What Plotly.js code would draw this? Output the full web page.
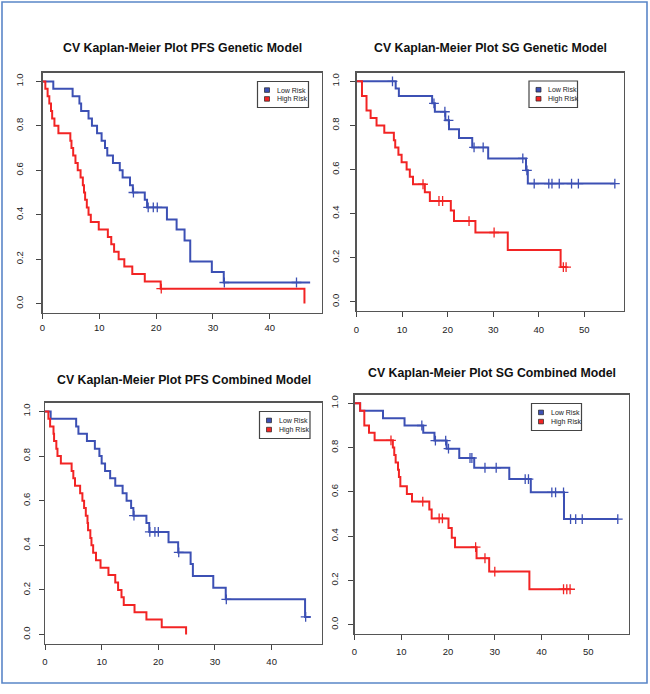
<!DOCTYPE html>
<html>
<head>
<meta charset="utf-8">
<script src="https://cdn.plot.ly/plotly-3.0.1.min.js"></script>
<style>
  html, body { margin: 0; padding: 0; background: #ffffff; }
  #chart { width: 650px; height: 694px; }
</style>
</head>
<body>
<div id="chart"></div>
<script>
// ---------------- DATA ----------------
const panelTitles = [
  "CV Kaplan-Meier Plot PFS Genetic Model",
  "CV Kaplan-Meier Plot SG Genetic Model",
  "CV Kaplan-Meier Plot PFS Combined Model",
  "CV Kaplan-Meier Plot SG Combined Model"
];
const seriesNames = ["Low Risk", "High Risk"];
const yTickVals = [0, 0.2, 0.4, 0.6, 0.8, 1.0];
const xTickVals1 = [0, 10, 20, 30, 40];
const xTickVals2 = [0, 10, 20, 30, 40, 50];

// Panel 1: PFS Genetic
const pfsGenLowT = [0, 1.9, 5.3, 6.5, 6.8, 8.1, 8.7, 9.6, 10.4, 11.0, 11.4, 12.4, 13.6, 14.1, 15.4, 15.9, 18.0, 18.4, 21.9, 23.6, 25.0, 26.0, 29.8, 31.9, 47.1];
const pfsGenLowS = [1, .967, .933, .9, .867, .833, .8, .767, .733, .7, .667, .633, .6, .567, .533, .5, .467, .433, .379, .333, .284, .19, .142, .095, .095];
const pfsGenLowCens = [16.0, 18.6, 19.5, 20.2, 32.0, 44.7];
const pfsGenHighT = [0, 0.5, 0.9, 1.2, 1.5, 1.7, 2.1, 2.8, 4.9, 5.1, 5.4, 5.8, 6.2, 6.7, 7.1, 7.3, 7.5, 7.8, 8.1, 8.5, 9.9, 11.5, 12.1, 12.6, 13.4, 14.4, 15.8, 18.0, 20.8, 46.1];
const pfsGenHighS = [1, .967, .933, .9, .867, .833, .8, .767, .733, .7, .667, .633, .6, .567, .533, .5, .467, .433, .4, .367, .333, .3, .267, .233, .2, .167, .133, .1, .067, 0];
const pfsGenHighCens = [20.9];

// Panel 2: SG Genetic
const sgGenLowT = [0, 8.6, 9.3, 16.6, 17.2, 19.5, 20.3, 22.5, 25.4, 28.9, 37.2, 37.6, 56.7];
const sgGenLowS = [1, .967, .933, .9, .862, .823, .783, .743, .7, .65, .596, .536, .536];
const sgGenLowCens = [7.9, 17.0, 19.4, 20.2, 25.8, 27.8, 36.5, 37.4, 39.0, 42.2, 42.9, 44.5, 47.2, 48.7, 56.7];
const sgGenHighT = [0, 1.2, 2.2, 3.1, 4.4, 6.1, 8.2, 8.5, 9.2, 9.9, 11.0, 11.7, 12.4, 15.0, 16.1, 20.7, 21.4, 26.1, 33.2, 44.8, 46.0];
const sgGenHighS = [1, .933, .867, .833, .8, .767, .733, .7, .667, .633, .6, .567, .533, .497, .457, .414, .366, .314, .235, .157, .157];
const sgGenHighCens = [14.6, 18.1, 18.9, 24.7, 30.2, 45.4, 46.0];

// Panel 3: PFS Combined
const pfsCombLowT = [0, 1.0, 5.5, 5.9, 7.4, 8.8, 9.6, 10.0, 10.6, 11.5, 12.4, 13.7, 14.4, 15.2, 15.6, 17.9, 18.4, 21.8, 23.5, 25.7, 26.1, 29.7, 31.9, 45.9, 46.9];
const pfsCombLowS = [1, .967, .933, .9, .867, .833, .8, .767, .733, .7, .667, .633, .6, .567, .533, .5, .46, .414, .368, .316, .263, .21, .158, .079, .079];
const pfsCombLowCens = [15.7, 18.5, 19.4, 20.0, 23.6, 32.0, 46.0];
const pfsCombHighT = [0, 0.6, 0.9, 1.5, 1.6, 2.0, 2.2, 2.8, 4.7, 5.0, 5.3, 6.2, 6.6, 6.9, 7.2, 7.5, 7.6, 8.0, 8.2, 8.5, 9.0, 9.8, 11.2, 12.4, 12.9, 13.5, 13.9, 15.8, 17.9, 20.6, 24.9];
const pfsCombHighS = [1, .967, .933, .9, .867, .833, .8, .767, .733, .7, .667, .633, .6, .567, .533, .5, .467, .433, .4, .367, .333, .3, .267, .233, .2, .167, .133, .1, .067, .033, 0];
const pfsCombHighCens = [];

// Panel 4: SG Combined
const sgCombLowT = [0, 1.2, 6.1, 10.7, 14.7, 17.1, 19.7, 22.4, 25.6, 33.1, 37.7, 44.8, 56.3];
const sgCombLowS = [1, .967, .933, .9, .867, .832, .795, .753, .709, .658, .598, .477, .477];
const sgCombLowCens = [14.4, 17.3, 19.5, 20.1, 24.7, 25.1, 27.9, 30.3, 36.5, 37.2, 42.2, 43.0, 44.7, 46.2, 47.3, 48.7, 56.3];
const sgCombHighT = [0, 1.2, 2.1, 3.1, 4.3, 8.2, 8.5, 8.8, 9.3, 9.5, 9.8, 11.2, 12.3, 16.0, 16.5, 20.1, 20.8, 21.5, 26.1, 28.8, 37.4, 46.1];
const sgCombHighS = [1, .967, .9, .867, .833, .8, .767, .733, .7, .667, .625, .59, .556, .52, .48, .437, .393, .35, .3, .24, .16, .16];
const sgCombHighCens = [7.8, 14.6, 18.1, 18.8, 25.9, 27.9, 30.0, 44.7, 45.4, 46.1];

// ---------------- LAYOUT / STYLE ----------------
const W = 650, H = 694;
const BLUE = "#3c50b4", RED = "#f22424";
const FONT = "Liberation Sans, Arial, sans-serif";
const px = v => v / W;
const py = v => 1 - v / H;

const panels = [
  { low: [pfsGenLowT, pfsGenLowS, pfsGenLowCens], high: [pfsGenHighT, pfsGenHighS, pfsGenHighCens],
    box: [42.5, 321.5, 72.5, 312.5], xmax: 49.1, xt: xTickVals1, ystand: 9, xstand: 1,
    title: [182, 48], leg: [257.5, 308.5, 81.5, 107.5] },
  { low: [sgGenLowT, sgGenLowS, sgGenLowCens], high: [sgGenHighT, sgGenHighS, sgGenHighCens],
    box: [356.5, 623.5, 72.5, 310.5], xmax: 58.6, xt: xTickVals2, ystand: 7, xstand: 5,
    title: [490, 48], leg: [529, 577.5, 81, 107.5] },
  { low: [pfsCombLowT, pfsCombLowS, pfsCombLowCens], high: [pfsCombHighT, pfsCombHighS, pfsCombHighCens],
    box: [45, 321.5, 402.5, 643.5], xmax: 48.8, xt: xTickVals1, ystand: 5, xstand: 4,
    title: [184, 380], leg: [259.5, 310, 411.5, 438.5] },
  { low: [sgCombLowT, sgCombLowS, sgCombLowCens], high: [sgCombHighT, sgCombHighS, sgCombHighCens],
    box: [354.5, 629, 394.5, 633.5], xmax: 58.7, xt: xTickVals2, ystand: 6, xstand: 4,
    title: [492, 372.5], leg: [531.5, 581.5, 403.5, 430.5] }
];

function stepAt(T, S, t) {
  let s = S[0];
  for (let i = 0; i < T.length; i++) { if (T[i] <= t) s = S[i]; }
  return s;
}

const traces = [];
const layout = {
  width: W, height: H,
  margin: { l: 0, r: 0, t: 0, b: 0 },
  paper_bgcolor: "#ffffff", plot_bgcolor: "#ffffff",
  showlegend: false,
  font: { family: FONT, color: "#222222", size: 9 },
  shapes: [], annotations: []
};

panels.forEach((p, i) => {
  const n = i + 1;
  const xa = "x" + (n === 1 ? "" : n), ya = "y" + (n === 1 ? "" : n);
  const xk = "xaxis" + (n === 1 ? "" : n), yk = "yaxis" + (n === 1 ? "" : n);
  [[p.low, BLUE, seriesNames[0]], [p.high, RED, seriesNames[1]]].forEach(([d, col, name]) => {
    traces.push({
      x: d[0], y: d[1], type: "scatter", mode: "lines", name: name,
      line: { shape: "hv", color: col, width: 2 },
      xaxis: xa, yaxis: ya, hoverinfo: "skip"
    });
    if (d[2].length) {
      traces.push({
        x: d[2], y: d[2].map(t => stepAt(d[0], d[1], t)), type: "scatter", mode: "markers", name: name + " censored",
        marker: { symbol: "cross-thin", size: 7, color: col, line: { color: col, width: 1.3 } },
        xaxis: xa, yaxis: ya, hoverinfo: "skip"
      });
    }
  });
  const [l, r, t, b] = p.box;
  layout[xk] = {
    domain: [px(l), px(r)], anchor: ya, range: [0, p.xmax],
    tickvals: p.xt, ticks: "outside", ticklen: 5, tickcolor: "#444", tickwidth: 1,
    showline: true, linecolor: "#555", linewidth: 1.3, mirror: true,
    showgrid: false, zeroline: false, ticklabelstandoff: p.xstand,
    tickfont: { family: FONT, size: 9.5, color: "#222" }
  };
  layout[yk] = {
    domain: [py(b), py(t)], anchor: xa, range: [-0.04, 1.04],
    tickvals: yTickVals, tickformat: ".1f", tickangle: -90,
    ticks: "outside", ticklen: 5, tickcolor: "#444", tickwidth: 1,
    showline: true, linecolor: "#555", linewidth: 1.3, mirror: true,
    showgrid: false, zeroline: false, ticklabelstandoff: p.ystand,
    tickfont: { family: FONT, size: 9.5, color: "#222" }
  };
  // title
  layout.annotations.push({
    text: "<b>" + panelTitles[i] + "</b>", xref: "paper", yref: "paper",
    x: px(p.title[0]), y: py(p.title[1]), xanchor: "center", yanchor: "middle",
    showarrow: false, font: { family: FONT, size: 12.3, color: "#111" }
  });
  // legend box
  const [ll, lr, lt, lb] = p.leg;
  layout.shapes.push({
    type: "rect", xref: "paper", yref: "paper",
    x0: px(ll), x1: px(lr), y0: py(lb), y1: py(lt),
    line: { color: "#444", width: 1.2 }, fillcolor: "#ffffff"
  });
  const rowY = [lt + (lb - lt) * 0.33, lt + (lb - lt) * 0.67];
  [[BLUE, seriesNames[0]], [RED, seriesNames[1]]].forEach(([col, name], k) => {
    const cx = ll + 9.5, cy = rowY[k];
    layout.shapes.push({
      type: "rect", xref: "paper", yref: "paper",
      x0: px(cx - 2.5), x1: px(cx + 2.5), y0: py(cy + 2.3), y1: py(cy - 2.3),
      line: { color: "#222", width: 0.7 }, fillcolor: col
    });
    layout.annotations.push({
      text: name, xref: "paper", yref: "paper", x: px(ll + 17), y: py(cy),
      xanchor: "left", yanchor: "middle", showarrow: false,
      font: { family: FONT, size: 7, color: "#222" }
    });
  });
});

// outer frame
layout.shapes.push({
  type: "rect", xref: "paper", yref: "paper",
  x0: px(2), x1: px(647), y0: py(683), y1: py(2),
  line: { color: "#5a86c8", width: 1.6 }, fillcolor: "rgba(0,0,0,0)"
});

Plotly.newPlot("chart", traces, layout, { staticPlot: true, displayModeBar: false });
</script>
</body>
</html>
